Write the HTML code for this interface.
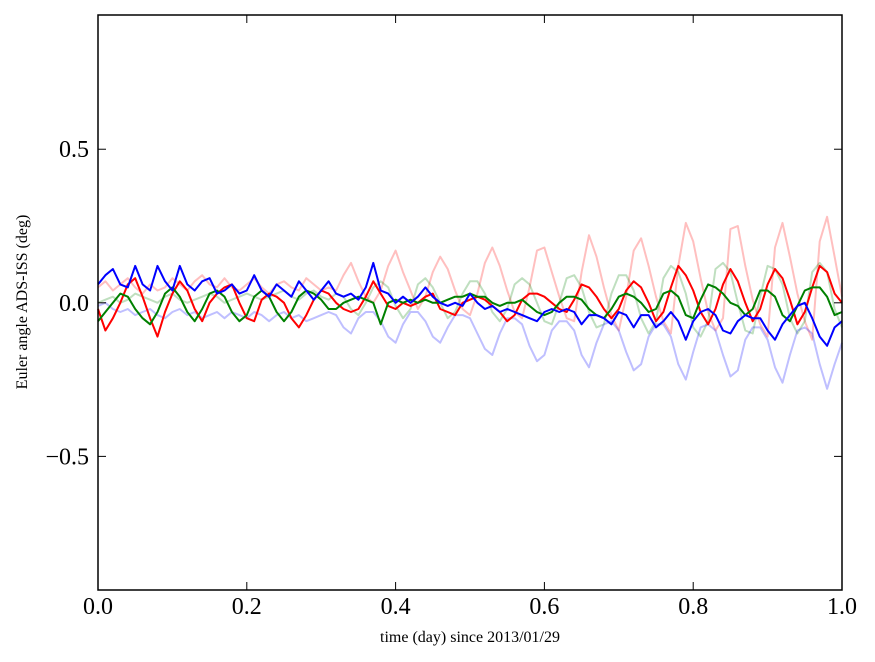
<!DOCTYPE html>
<html><head><meta charset="utf-8"><style>
html,body{margin:0;padding:0;background:#fff;}
svg{display:block;}
text{font-family:"Liberation Serif",serif;fill:#000;}
</style></head><body>
<svg id="chart" width="875" height="662" xmlns="http://www.w3.org/2000/svg">
<rect x="0" y="0" width="875" height="662" fill="#fff"/>
<g id="series"></g>
<g id="axes"></g>
<text x="470" y="642" font-size="16" text-anchor="middle">time (day) since 2013/01/29</text>
<text transform="translate(27,302) rotate(-90)" font-size="16" text-anchor="middle">Euler angle ADS-ISS (deg)</text>
</svg>
<script>
const xTicks = [0, 0.2, 0.4, 0.6, 0.8, 1.0];
const xTickLabels = ["0.0", "0.2", "0.4", "0.6", "0.8", "1.0"];
const yTicks = [-0.5, 0, 0.5];
const yTickLabels = ["\u22120.5", "0.0", "0.5"];
const refRed = [0.05,0.07,0.04,0.06,0.08,0.05,0.03,0.06,0.04,0.05,0.08,0.06,0.04,0.07,0.09,0.06,0.05,0.08,0.05,0.04,0.06,0.08,0.05,0.03,0.06,0.07,0.05,0.04,0.08,0.06,0.04,
0.05,0.04,0.09,0.13,0.07,0.02,0.0,0.04,0.12,0.17,0.10,0.04,-0.02,0.02,0.10,0.15,0.11,0.04,-0.02,-0.04,0.03,0.13,0.18,0.12,0.04,-0.03,-0.05,0.05,0.17,0.18,0.10,0.02,-0.05,-0.06,0.10,0.22,0.15,0.05,-0.04,-0.09,0.02,0.17,0.21,0.12,0.02,-0.06,-0.10,0.12,0.26,0.20,0.08,-0.03,-0.09,-0.05,0.24,0.25,0.12,0.01,-0.07,-0.11,0.18,0.26,0.15,0.03,-0.06,-0.12,0.20,0.28,0.15,0.02];
const refBlue = [-0.01,0.0,-0.02,-0.03,-0.02,-0.04,-0.03,-0.02,-0.04,-0.05,-0.03,-0.02,-0.04,-0.03,-0.05,-0.04,-0.03,-0.05,-0.03,-0.04,-0.05,-0.03,-0.04,-0.06,-0.04,-0.03,-0.05,-0.04,-0.06,-0.05,-0.04,
-0.03,-0.04,-0.08,-0.10,-0.05,-0.03,-0.03,-0.06,-0.11,-0.13,-0.07,-0.03,-0.03,-0.06,-0.11,-0.13,-0.08,-0.04,-0.04,-0.05,-0.10,-0.15,-0.17,-0.10,-0.05,-0.05,-0.07,-0.14,-0.19,-0.17,-0.09,-0.06,-0.06,-0.09,-0.17,-0.21,-0.13,-0.07,-0.06,-0.09,-0.16,-0.22,-0.20,-0.11,-0.07,-0.07,-0.11,-0.20,-0.25,-0.16,-0.08,-0.07,-0.09,-0.17,-0.24,-0.22,-0.12,-0.08,-0.08,-0.12,-0.21,-0.26,-0.17,-0.09,-0.08,-0.10,-0.20,-0.28,-0.20,-0.13];
const refGreen = [0.0,0.01,0.02,0.0,0.01,0.03,0.02,0.01,0.0,0.02,0.03,0.01,0.0,0.01,0.02,0.03,0.02,0.0,0.01,0.02,0.03,0.02,0.01,0.02,0.03,0.04,0.02,0.01,0.03,0.04,0.02,
0.01,0.03,0.02,-0.02,-0.04,0.0,0.05,0.07,0.05,-0.01,-0.05,-0.02,0.06,0.08,0.05,0.0,-0.05,-0.03,0.03,0.07,0.07,0.03,-0.03,-0.06,-0.02,0.06,0.08,0.06,0.0,-0.06,-0.07,0.0,0.08,0.09,0.05,-0.03,-0.08,-0.07,0.03,0.09,0.09,0.04,-0.05,-0.10,-0.06,0.08,0.12,0.10,0.03,-0.08,-0.11,-0.06,0.11,0.13,0.10,0.0,-0.09,-0.10,0.02,0.12,0.11,0.06,-0.05,-0.10,-0.06,0.10,0.13,0.10,-0.02,-0.08];
const valRed = [-0.02,-0.09,-0.05,0.0,0.06,0.08,0.02,-0.05,-0.11,-0.03,0.03,0.07,0.04,-0.02,-0.06,0.0,0.03,0.05,0.06,0.0,-0.05,-0.06,0.01,0.03,0.02,0.0,-0.05,-0.08,-0.04,0.01,0.04,
0.03,0.0,-0.02,-0.03,-0.02,0.02,0.07,0.03,-0.01,-0.02,0.0,-0.01,0.0,0.02,0.03,-0.02,-0.03,-0.04,0.0,0.01,0.02,0.01,-0.01,-0.03,-0.06,-0.04,0.01,0.03,0.03,0.02,0.0,-0.02,-0.03,0.01,0.06,0.05,0.02,-0.02,-0.05,-0.02,0.04,0.07,0.05,0.0,-0.06,-0.03,0.05,0.12,0.09,0.04,-0.03,-0.07,-0.02,0.06,0.11,0.07,0.0,-0.06,-0.02,0.06,0.11,0.08,0.01,-0.07,-0.03,0.05,0.12,0.10,0.03,0.0];
const valGreen = [-0.06,-0.03,0.0,0.03,0.02,-0.02,-0.05,-0.07,-0.03,0.03,0.05,0.02,-0.03,-0.06,-0.02,0.03,0.04,0.02,-0.03,-0.06,-0.04,0.02,0.04,0.02,-0.03,-0.06,-0.03,0.02,0.04,0.03,0.01,
-0.02,-0.02,0.0,0.01,0.02,0.01,0.0,-0.07,0.0,0.01,0.0,0.01,0.0,0.01,0.0,0.0,0.01,0.02,0.02,0.03,0.02,0.02,0.0,-0.01,0.0,0.0,0.01,-0.01,-0.03,-0.04,-0.03,0.0,0.02,0.02,0.01,-0.02,-0.04,-0.05,-0.02,0.02,0.03,0.02,0.0,-0.03,-0.02,0.03,0.04,0.02,-0.04,-0.05,0.01,0.06,0.05,0.03,0.0,-0.01,-0.04,-0.02,0.04,0.04,0.02,-0.04,-0.06,-0.01,0.04,0.05,0.05,0.02,-0.04,-0.03];
const valBlue = [0.06,0.09,0.11,0.06,0.05,0.12,0.06,0.04,0.12,0.07,0.04,0.12,0.06,0.04,0.07,0.08,0.03,0.04,0.06,0.03,0.04,0.09,0.04,0.02,0.06,0.04,0.02,0.07,0.04,0.01,0.04,
0.07,0.03,0.02,0.03,0.01,0.05,0.13,0.04,0.03,0.0,0.02,0.0,0.02,0.05,0.02,0.0,-0.01,0.0,-0.01,0.03,0.0,-0.02,-0.01,-0.03,-0.02,-0.03,-0.04,-0.05,-0.06,-0.03,-0.02,-0.03,-0.02,-0.03,-0.07,-0.04,-0.04,-0.05,-0.07,-0.03,-0.04,-0.08,-0.04,-0.04,-0.08,-0.06,-0.03,-0.06,-0.12,-0.06,-0.03,-0.02,-0.04,-0.09,-0.10,-0.06,-0.04,-0.05,-0.05,-0.09,-0.12,-0.07,-0.04,-0.01,0.0,-0.05,-0.11,-0.14,-0.08,-0.06];

const L=98,R=842,T=15,B=590;
const xMin=0,xMax=1,yMin=-0.935,yMax=0.937;
function xs(v){return L+(v-xMin)/(xMax-xMin)*(R-L);}
function ys(v){return B-(v-yMin)/(yMax-yMin)*(B-T);}
const NS="http://www.w3.org/2000/svg";
const sg=document.getElementById('series');
function drawLine(vals,color,op,name){
  const n=vals.length;
  let d='';
  vals.forEach((v,i)=>{const x=xs(i/(n-1)),y=ys(v);d+=(i?'L':'M')+x.toFixed(1)+','+y.toFixed(1);});
  const p=document.createElementNS(NS,'path');
  p.setAttribute('d',d);p.setAttribute('fill','none');p.setAttribute('stroke',color);
  p.setAttribute('stroke-width','2');p.setAttribute('stroke-opacity',op);p.setAttribute('stroke-linejoin','round');
  
  
  sg.appendChild(p);
}
drawLine(refRed,'#ff0000',0.25,'faint-red-series');
drawLine(refGreen,'#008000',0.25,'faint-green-series');
drawLine(refBlue,'#0000ff',0.25,'faint-blue-series');
drawLine(valRed,'#ff0000',1,'red-series');
drawLine(valGreen,'#008000',1,'green-series');
drawLine(valBlue,'#0000ff',1,'blue-series');

const ag=document.getElementById('axes');
function el(tag,attrs){const e=document.createElementNS(NS,tag);for(const k in attrs)e.setAttribute(k,attrs[k]);ag.appendChild(e);return e;}
const frame=el('rect',{x:L,y:T,width:R-L,height:B-T,fill:'none',stroke:'#000','stroke-width':1.5});


xTicks.forEach((v,i)=>{
  const x=xs(v);
  const t1=el('line',{x1:x,y1:B,x2:x,y2:B-8,stroke:'#000','stroke-width':1});
  
  
  const t2=el('line',{x1:x,y1:T,x2:x,y2:T+8,stroke:'#000','stroke-width':1});
  
  
  const tx=el('text',{x:x,y:614,'font-size':24,'text-anchor':'middle'});
  tx.textContent=xTickLabels[i];
  
  
});
yTicks.forEach((v,i)=>{
  const y=ys(v);
  const t1=el('line',{x1:L,y1:y,x2:L+8,y2:y,stroke:'#000','stroke-width':1});
  
  
  const t2=el('line',{x1:R,y1:y,x2:R-8,y2:y,stroke:'#000','stroke-width':1});
  
  
  const tx=el('text',{x:89,y:y+8,'font-size':24,'text-anchor':'end'});
  tx.textContent=yTickLabels[i];
  
  
});
</script>
</body></html>
